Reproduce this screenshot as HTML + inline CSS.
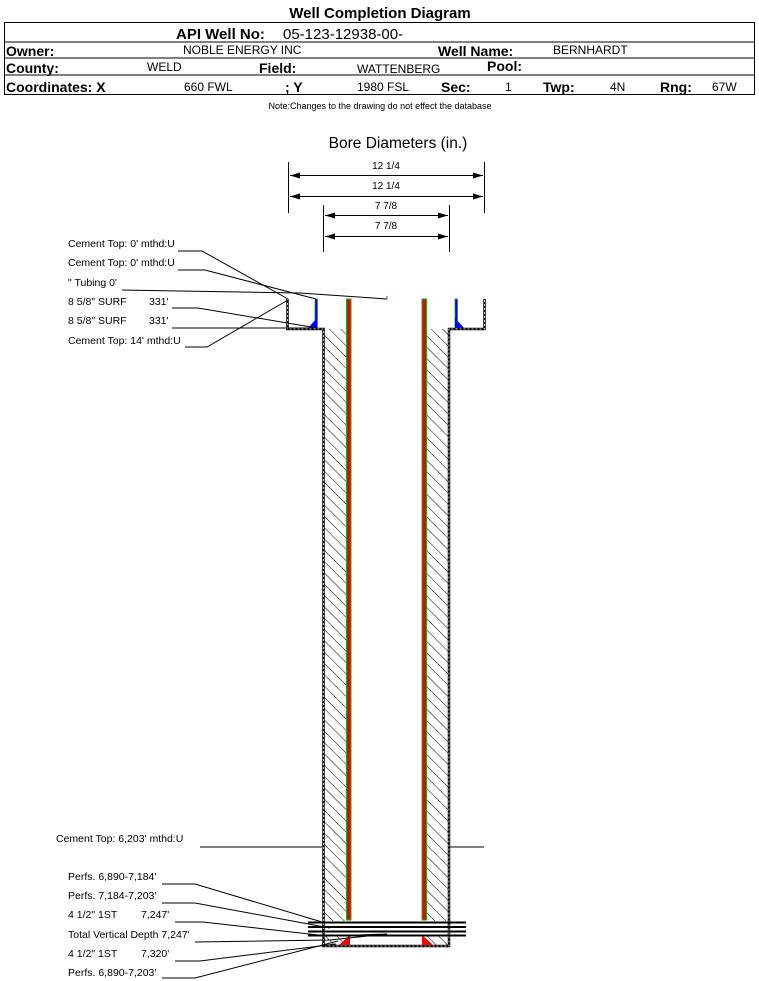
<!DOCTYPE html>
<html><head><meta charset="utf-8"><style>
html,body{margin:0;padding:0;background:#fff;}
svg{display:block;font-family:"Liberation Sans",Arial,sans-serif;}
</style></head><body>
<svg width="759" height="981" viewBox="0 0 759 981" xmlns="http://www.w3.org/2000/svg">
<defs>
<pattern id="h" patternUnits="userSpaceOnUse" width="8" height="8" patternTransform="rotate(-45)">
<rect width="8" height="8" fill="#fff"/><line x1="0" y1="0" x2="0" y2="8" stroke="#000" stroke-width="1"/>
</pattern>
<marker id="a" markerWidth="10" markerHeight="6" refX="10" refY="3" orient="auto"><path d="M0,0 L10,3 L0,6 z" fill="#000"/></marker>
</defs>
<!-- header -->
<text x="380" y="18" font-size="15" font-weight="bold" text-anchor="middle">Well Completion Diagram</text>
<rect x="4.5" y="22.5" width="750" height="72" fill="none" stroke="#000" stroke-width="1"/>
<line x1="4" y1="42" x2="755" y2="42" stroke="#000"/>
<line x1="4" y1="58" x2="755" y2="58" stroke="#000"/>
<line x1="4" y1="75" x2="755" y2="75" stroke="#000"/>
<text x="176" y="39" font-size="15" font-weight="bold">API Well No:</text>
<text x="283" y="39" font-size="15">05-123-12938-00-</text>
<text x="6" y="56" font-size="14" font-weight="bold">Owner:</text>
<text x="183" y="54" font-size="12">NOBLE ENERGY INC</text>
<text x="438" y="56" font-size="14" font-weight="bold">Well Name:</text>
<text x="553" y="54" font-size="12">BERNHARDT</text>
<text x="6" y="73" font-size="14" font-weight="bold">County:</text>
<text x="147" y="71" font-size="12">WELD</text>
<text x="259" y="73" font-size="14" font-weight="bold">Field:</text>
<text x="357" y="73" font-size="12">WATTENBERG</text>
<text x="487" y="71" font-size="14" font-weight="bold">Pool:</text>
<text x="6" y="92" font-size="14" font-weight="bold">Coordinates: X</text>
<text x="184" y="91" font-size="12">660 FWL</text>
<text x="285" y="92" font-size="14" font-weight="bold">; Y</text>
<text x="357" y="91" font-size="12">1980 FSL</text>
<text x="441" y="92" font-size="14" font-weight="bold">Sec:</text>
<text x="505" y="91" font-size="12">1</text>
<text x="543" y="92" font-size="14" font-weight="bold">Twp:</text>
<text x="610" y="91" font-size="12">4N</text>
<text x="660" y="92" font-size="14" font-weight="bold">Rng:</text>
<text x="712" y="91" font-size="12">67W</text>
<text x="380" y="109" font-size="9" text-anchor="middle">Note:Changes to the drawing do not effect the database</text>
<!-- bore diameters -->
<text x="398" y="148" font-size="15.5" text-anchor="middle">Bore Diameters (in.)</text>
<g stroke="#000" stroke-width="1">
<line x1="288.5" y1="162" x2="288.5" y2="213"/><line x1="484.5" y1="162" x2="484.5" y2="213"/>
<line x1="323.5" y1="205" x2="323.5" y2="252"/><line x1="449.5" y1="205" x2="449.5" y2="252"/>
<line x1="290" y1="175.5" x2="483" y2="175.5" marker-end="url(#a)"/><line x1="483" y1="175.5" x2="290" y2="175.5" marker-end="url(#a)"/>
<line x1="290" y1="196.5" x2="483" y2="196.5" marker-end="url(#a)"/><line x1="483" y1="196.5" x2="290" y2="196.5" marker-end="url(#a)"/>
<line x1="325" y1="215.5" x2="448" y2="215.5" marker-end="url(#a)"/><line x1="448" y1="215.5" x2="325" y2="215.5" marker-end="url(#a)"/>
<line x1="325" y1="236.5" x2="448" y2="236.5" marker-end="url(#a)"/><line x1="448" y1="236.5" x2="325" y2="236.5" marker-end="url(#a)"/>
</g>
<g font-size="10" text-anchor="middle">
<text x="386" y="169">12 1/4</text><text x="386" y="189">12 1/4</text>
<text x="386" y="209">7 7/8</text><text x="386" y="229">7 7/8</text>
</g>
<!-- well -->
<rect x="323" y="329" width="23.5" height="592" fill="url(#h)"/>
<rect x="426" y="329" width="23" height="592" fill="url(#h)"/>
<rect x="323" y="935" width="126" height="11" fill="url(#h)"/>
<rect x="346" y="936" width="80" height="10" fill="#fff"/>
<g stroke="#000" stroke-width="2.5" fill="none">
<polyline points="287.5,299 287.5,329 323.5,329 323.5,946 449,946 449,329 484.5,329 484.5,299"/>
</g>
<g stroke="#fff" stroke-width="0.8" stroke-dasharray="2,2" fill="none">
<polyline points="287.5,299 287.5,329 323.5,329 323.5,946 449,946 449,329 484.5,329 484.5,299"/>
</g>
<!-- casings -->
<rect x="346.5" y="299" width="4.5" height="621" fill="#e00" stroke="#2a2" stroke-width="1"/>
<rect x="422" y="299" width="4.5" height="621" fill="#e00" stroke="#2a2" stroke-width="1"/>
<rect x="315" y="299" width="2.5" height="29" fill="#00c" stroke="#0a3" stroke-width="0.8"/>
<rect x="455" y="299" width="2.5" height="29" fill="#00c" stroke="#0a3" stroke-width="0.8"/>
<polygon points="317,318 317,328 308,328" fill="#00f"/>
<polygon points="455,318 455,328 464,328" fill="#00f"/>
<polygon points="350,935 350,945 339,945" fill="#e00"/>
<polygon points="422,935 422,945 433,945" fill="#e00"/>
<line x1="387" y1="296" x2="387" y2="299" stroke="#0a0"/>
<!-- perf lines -->
<g stroke="#000" stroke-width="2">
<line x1="308" y1="922.5" x2="466" y2="922.5"/><line x1="308" y1="927" x2="466" y2="927"/>
<line x1="308" y1="931.5" x2="466" y2="931.5"/><line x1="308" y1="935.5" x2="466" y2="935.5"/>
</g>
<!-- leaders -->
<g stroke="#000" stroke-width="1" fill="none">
<polyline points="178,251 202,251 288,299"/>
<polyline points="178,270 205,270 316,299"/>
<polyline points="122,290 300,293 387,299"/>
<polyline points="172,308 198,308 317,328"/>
<polyline points="172,328 310,328"/>
<polyline points="185,347 207,347 288,300"/>
<polyline points="200,847 322,847"/>
<line x1="449" y1="847" x2="484" y2="847"/>
<polyline points="162,884 195,884 322,922"/>
<polyline points="162,903 195,903 330,928"/>
<polyline points="175,922 203,922 318,935"/>
<polyline points="195,942 330,940 387,934 330,936"/>
<polyline points="175,961 200,961 336,944"/>
<polyline points="162,978 195,978 338,941"/>
</g>
<g font-size="10.5">
<text x="68" y="247">Cement Top: 0' mthd:U</text>
<text x="68" y="266">Cement Top: 0' mthd:U</text>
<text x="68" y="286">" Tubing 0'</text>
<text x="68" y="305">8 5/8" SURF</text><text x="149" y="305">331'</text>
<text x="68" y="324">8 5/8" SURF</text><text x="149" y="324">331'</text>
<text x="68" y="344">Cement Top: 14' mthd:U</text>
<text x="56" y="842">Cement Top: 6,203' mthd:U</text>
<text x="68" y="880">Perfs. 6,890-7,184'</text>
<text x="68" y="899">Perfs. 7,184-7,203'</text>
<text x="68" y="918">4 1/2" 1ST</text><text x="141" y="918">7,247'</text>
<text x="68" y="938">Total Vertical Depth 7,247'</text>
<text x="68" y="957">4 1/2" 1ST</text><text x="141" y="957">7,320'</text>
<text x="68" y="976">Perfs. 6,890-7,203'</text>
</g>
</svg>
</body></html>
